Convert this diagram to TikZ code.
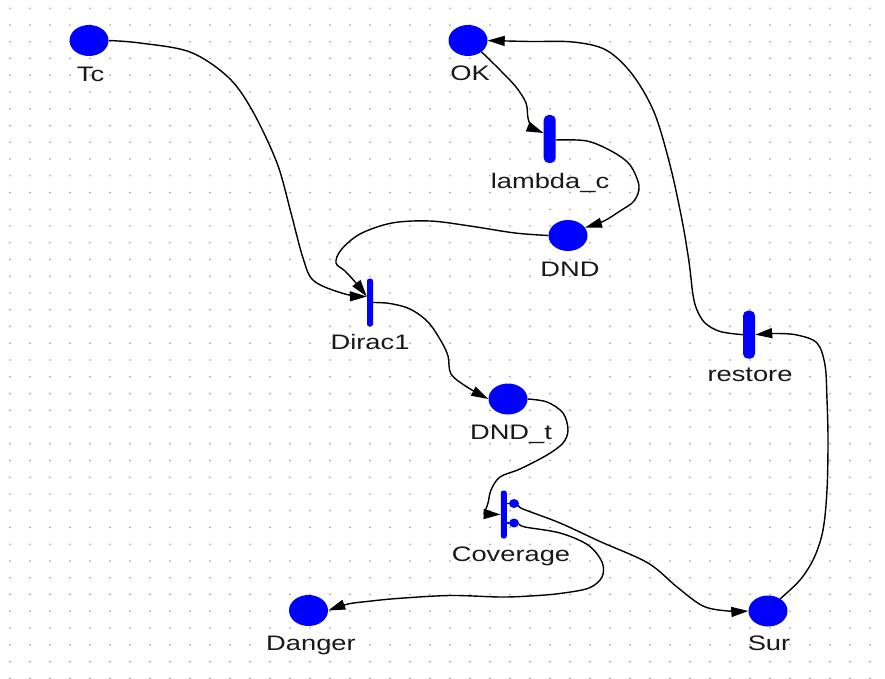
\documentclass[tikz,border=0pt]{standalone}
\usepackage{fontspec}
\newfontfamily\lblfont[FakeStretch=1.3]{Liberation Sans}
\usetikzlibrary{shapes.geometric,arrows.meta}
\begin{document}
\begin{tikzpicture}[x=1pt,y=-1pt,
  place/.style={ellipse,fill=blue,draw=none,minimum width=39pt,minimum height=31pt,inner sep=0pt},
  trthin/.style={rectangle,rounded corners=2.5pt,fill=blue,draw=none,minimum width=6pt,minimum height=48pt,inner sep=0pt},
  trthick/.style={rectangle,rounded corners=5pt,fill=blue,draw=none,minimum width=12pt,minimum height=48pt,inner sep=0pt},
  lbl/.style={font={\fontsize{21}{25}\lblfont},inner sep=0pt,text=black!90,anchor=base},
  arc/.style={line width=1.4pt,black,-{Triangle[length=17pt,width=10pt]}},
  gdot/.style={fill=black!40},
  stub/.style={line width=1.8pt,blue},
  cdot/.style={ellipse,fill=blue,minimum width=10pt,minimum height=9pt,inner sep=0pt}]
\useasboundingbox (0,0) rectangle (885,679);
\fill[white] (0,0) rectangle (885,679);
\foreach \i in {0,...,43}
  \foreach \j in {0,...,40}
    \fill[gdot] ({10+20*\i},{8.3+16.75*\j}) circle (0.85pt);

% places
\node[place] (Tc) at (89,40.5) {};
\node[place] (OK) at (468,40.5) {};
\node[place] (DND) at (568,235.5) {};
\node[place] (DNDt) at (508,399) {};
\node[place] (Sur) at (768,611) {};
\node[place] (Danger) at (308.5,610.5) {};
% transitions
\node[trthick] (lc) at (549.7,139) {};
\node[trthin] (Dirac) at (370,302.5) {};
\node[trthick] (restore) at (749,334.7) {};
\node[trthin] (Cov) at (503.8,514.5) {};
\node[cdot] (cd1) at (514,503.5) {};
\node[cdot] (cd2) at (514,523) {};
\draw[stub] (Cov.east |- cd1) -- (cd1.west);
\draw[stub] (Cov.east |- cd2) -- (cd2.west);
% labels
\node[lbl] (lTc) at (90.5,81.5) {Tc};
\node[lbl] (lOK) at (470,80.5) {OK};
\node[lbl] (llc) at (550,188) {lambda\_c};
\node[lbl] (lDND) at (570,276) {DND};
\node[lbl] (lDirac) at (370,349.5) {Dirac1};
\node[lbl] (lDNDt) at (511,439) {DND\_t};
\node[lbl] (lrestore) at (750,381.7) {restore};
\node[lbl] (lCov) at (511,561.5) {Coverage};
\node[lbl] (lDanger) at (311,650.5) {Danger};
\node[lbl] (lSur) at (769,650) {Sur};

% arcs
\draw[arc] plot[smooth,tension=0.55] coordinates {(Tc.east) (140,43) (190,52) (228,77) (252,110) (277,163) (291,213) (303,258) (314,281) (345,294) ([yshift=6pt]Dirac.west)};
\draw[arc] plot[smooth,tension=0.55] coordinates {(DND.west) (515,233) (470,226) (430,221) (392,223) (360,234) (341,250) (336,263) (345,271) (356,283) ([yshift=6pt]Dirac.west)};
\draw[arc] plot[smooth,tension=0.55] coordinates {(OK.-40) (500,70) (516,87) (526,103) (528,118) (532,127) ([yshift=6pt]lc.west)};
\draw[arc] plot[smooth,tension=0.55] coordinates {([yshift=-1pt]lc.east) (587,141) (613,152) (630,165) (639,186) (634,201) (620,211) (604,221) (DND.25)};
\draw[arc] plot[smooth,tension=0.55] coordinates {(Dirac.east) (390,303.5) (410,309) (428,322) (441,341) (448,356) (451,374) (467,387) (DNDt.west)};
\draw[arc] plot[smooth,tension=0.55] coordinates {(DNDt.east) (547,402) (563,413) (568,430) (563,443) (547,455) (520,469) (500,477) (491,490) (488,503) (484,514)} -- (Cov.west);
\draw[arc] plot[smooth,tension=0.55] coordinates {(cd1.-20) (523,509) (560,523) (600,541.5) (648,563) (677,587) (703,606) (728,611) (Sur.west)};
\draw[arc] plot[smooth,tension=0.55] coordinates {(cd2.-10) (525,527) (560,533) (588,545) (602,562) (602,577) (589,588) (560,593.5) (530,596) (500,597) (450,595.5) (397,598.5) (367,601.5) (348,604) (Danger.east)};
\draw[arc] plot[smooth,tension=0.55] coordinates {(Sur.45) (800,580) (814,558) (823,530) (827,490) (828,440) (827,400) (825,365) (817,343) (797,335) (775,333.5) (restore.east)};
\draw[arc] plot[smooth,tension=0.55] coordinates {(restore.west) (720,331.5) (705,323) (697,310) (693,295) (689,262) (682,220) (670,165) (654,112) (632,74) (606,50) (573,42) (530,41.5) (OK.east)};
\end{tikzpicture}
\end{document}
